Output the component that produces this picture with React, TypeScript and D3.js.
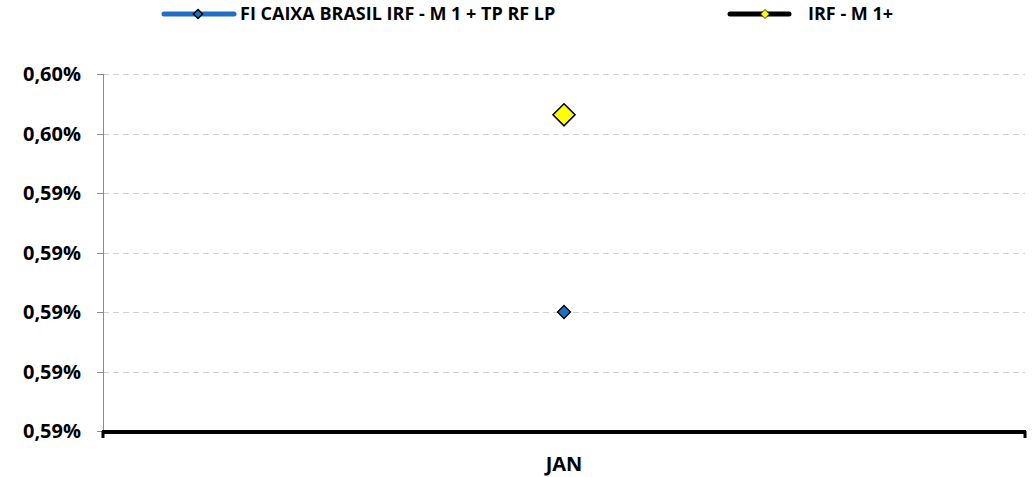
import React, { useRef, useEffect } from 'react';
import * as d3 from 'd3';

const categories = ['JAN'];
const seriesNames = ['FI CAIXA BRASIL IRF - M 1 + TP RF LP', 'IRF - M 1+'];
const fundValues = [0.59];
const indexValues = [0.59663];
const yTicks = [0.586, 0.588, 0.59, 0.592, 0.594, 0.596, 0.598];

const FONT = '"Open Sans", "Noto Sans", sans-serif';

const App = () => {
  const ref = useRef<SVGSVGElement>(null);

  useEffect(() => {
    const svg = d3.select(ref.current);
    svg.selectAll('*').remove();
    const left = 103;
    const right = 1025;
    const top = 74;
    const bottom = 431;

    const x = d3.scaleBand().domain(categories).range([left, right]);
    const y = d3.scaleLinear().domain([0.586, 0.598]).range([bottom, top]);
    const fmt = (v: number) => v.toFixed(2).replace('.', ',') + '%';

    // gridlines
    svg
      .append('g')
      .selectAll('line')
      .data(yTicks.slice(1))
      .enter()
      .append('line')
      .attr('x1', left)
      .attr('x2', right)
      .attr('y1', (d) => Math.round(y(d)) + 0.5)
      .attr('y2', (d) => Math.round(y(d)) + 0.5)
      .attr('stroke', '#d0d0d0')
      .attr('stroke-width', 1)
      .attr('stroke-dasharray', '6,4');

    // y axis
    svg
      .append('line')
      .attr('x1', left + 0.5)
      .attr('x2', left + 0.5)
      .attr('y1', top)
      .attr('y2', bottom)
      .attr('stroke', '#8c8c8c')
      .attr('stroke-width', 1);
    const yt = svg.append('g').selectAll('g').data(yTicks).enter().append('g');
    yt.append('line')
      .attr('x1', left - 6)
      .attr('x2', left)
      .attr('y1', (d) => Math.round(y(d)) + 0.5)
      .attr('y2', (d) => Math.round(y(d)) + 0.5)
      .attr('stroke', '#8c8c8c');
    yt.append('text')
      .attr('x', 81)
      .attr('y', (d) => y(d))
      .attr('dy', '0.35em')
      .attr('text-anchor', 'end')
      .style('font-family', FONT)
      .style('font-weight', 'bold')
      .style('font-size', '20px')
      .attr('fill', '#000')
      .text((d) => fmt(d));

    // x axis
    svg
      .append('line')
      .attr('x1', left - 1)
      .attr('x2', right + 1)
      .attr('y1', bottom + 1)
      .attr('y2', bottom + 1)
      .attr('stroke', '#000')
      .attr('stroke-width', 4);
    [left, right].forEach((px) => {
      svg
        .append('line')
        .attr('x1', px)
        .attr('x2', px)
        .attr('y1', bottom)
        .attr('y2', bottom + 7)
        .attr('stroke', '#000')
        .attr('stroke-width', 3);
    });
    svg
      .append('g')
      .selectAll('text')
      .data(categories)
      .enter()
      .append('text')
      .attr('x', (d) => (x(d) as number) + x.bandwidth() / 2)
      .attr('y', 471)
      .attr('text-anchor', 'middle')
      .style('font-family', FONT)
      .style('font-weight', 'bold')
      .style('font-size', '20px')
      .text((d) => d);

    const diamond = (cx: number, cy: number, r: number) =>
      `M${cx},${cy - r}L${cx + r},${cy}L${cx},${cy + r}L${cx - r},${cy}Z`;

    // points
    const cx = (i: number) => (x(categories[i]) as number) + x.bandwidth() / 2;
    svg
      .append('g')
      .selectAll('path')
      .data(fundValues)
      .enter()
      .append('path')
      .attr('d', (d, i) => diamond(cx(i), y(d), 6.5))
      .attr('fill', '#1f6fc5')
      .attr('stroke', '#000')
      .attr('stroke-width', 1.3);
    svg
      .append('g')
      .selectAll('path')
      .data(indexValues)
      .enter()
      .append('path')
      .attr('d', (d, i) => diamond(cx(i), y(d), 11))
      .attr('fill', '#ffff00')
      .attr('stroke', '#000')
      .attr('stroke-width', 1.6);

    // legend
    const legend = [
      { name: seriesNames[0], x1: 164, x2: 234, color: '#1f6fc5', mk: '#1f6fc5', mx: 198, sw: 1.5, tx: 240 },
      { name: seriesNames[1], x1: 730, x2: 789, color: '#000', mk: '#ffff00', mx: 765, sw: 0.8, tx: 808 },
    ];
    legend.forEach((l) => {
      svg
        .append('line')
        .attr('x1', l.x1)
        .attr('x2', l.x2)
        .attr('y1', 14)
        .attr('y2', 14)
        .attr('stroke', l.color)
        .attr('stroke-width', 5)
        .attr('stroke-linecap', 'round');
      svg
        .append('path')
        .attr('d', diamond(l.mx, 14, 4.5))
        .attr('fill', l.mk)
        .attr('stroke', '#000')
        .attr('stroke-width', l.sw);
      svg
        .append('text')
        .attr('x', l.tx)
        .attr('y', 14)
        .attr('dy', '0.35em')
        .style('font-family', FONT)
        .style('font-weight', 'bold')
        .style('font-size', '18px')
        .text(l.name);
    });
  }, []);

  return (
    <svg
      ref={ref}
      width={1035}
      height={477}
      style={{ position: 'absolute', left: 0, top: 0, background: '#fff' }}
    />
  );
};

export default App;
